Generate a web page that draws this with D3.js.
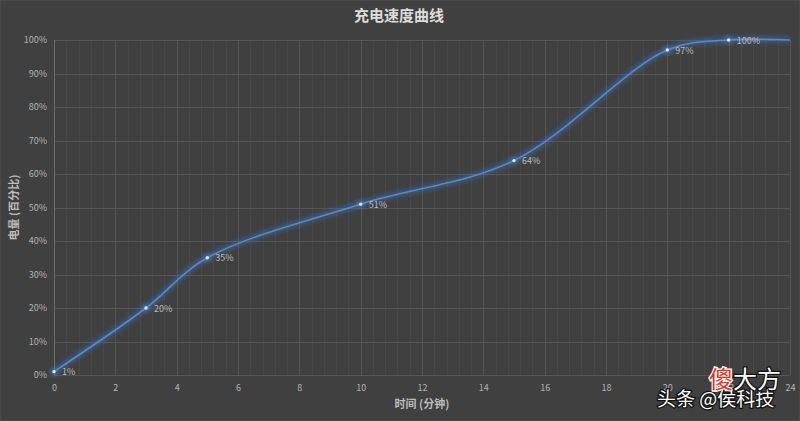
<!DOCTYPE html>
<html><head><meta charset="utf-8">
<script src="https://cdn.jsdelivr.net/npm/d3@7"></script>
<style>
html,body{margin:0;padding:0;background:#404040;}
svg{display:block;}
text{font-family:"Noto Sans CJK SC","Noto Sans",sans-serif;}
</style></head>
<body>
<script>
const minutes = [0, 3, 5, 10, 15, 20, 22, 24];
const charge = [1, 20, 35, 51, 64, 97, 100, 100];
const labeled = [true, true, true, true, true, true, true, false];
const xTicks = [0, 2, 4, 6, 8, 10, 12, 14, 16, 18, 20, 22, 24];
const yTicks = [0, 10, 20, 30, 40, 50, 60, 70, 80, 90, 100];
const title = "充电速度曲线";
const xTitle = "时间 (分钟)";
const yTitle = "电量 (百分比)";

const W = 800, H = 421;
const svg = d3.select("body").append("svg").attr("width", W).attr("height", H);
svg.append("rect").attr("width", W).attr("height", H).attr("fill", "#404040");
svg.append("rect").attr("x",0.5).attr("y",0.5).attr("width",W-1).attr("height",H-1).attr("fill","none").attr("stroke","#4a4a4a");

const x = d3.scaleLinear().domain([0, 24]).range([54, 790]);
const y = d3.scaleLinear().domain([0, 100]).range([375, 40]);

const defs = svg.append("defs");
const glow = defs.append("filter").attr("id","glow").attr("x","-20%").attr("y","-20%").attr("width","140%").attr("height","140%");
glow.append("feGaussianBlur").attr("in","SourceGraphic").attr("stdDeviation",2.5);

// minor vertical grid
const minor = d3.range(0, 24.001, 0.4).filter(v => Math.abs(v/2 - Math.round(v/2)) > 0.01);
svg.append("g").selectAll("line").data(minor).join("line")
  .attr("x1", d => Math.round(x(d))+0.5).attr("x2", d => Math.round(x(d))+0.5)
  .attr("y1", y(100)).attr("y2", y(0)).attr("stroke", "#484848").attr("stroke-width", 1);
// major vertical grid
svg.append("g").selectAll("line").data(xTicks.slice(1)).join("line")
  .attr("x1", d => Math.round(x(d))+0.5).attr("x2", d => Math.round(x(d))+0.5)
  .attr("y1", y(100)).attr("y2", y(0)).attr("stroke", "#545454").attr("stroke-width", 1);
// horizontal grid
svg.append("g").selectAll("line").data(yTicks).join("line")
  .attr("x1", x(0)).attr("x2", x(24))
  .attr("y1", d => Math.round(y(d))+0.5).attr("y2", d => Math.round(y(d))+0.5)
  .attr("stroke", "#565656").attr("stroke-width", 1);
// y axis line
svg.append("line").attr("x1", Math.round(x(0))+0.5).attr("x2", Math.round(x(0))+0.5)
  .attr("y1", y(100)).attr("y2", y(0)).attr("stroke", "#6e6e6e");

// axes
const xAxis = svg.append("g").attr("transform", `translate(0,${y(0)})`)
  .call(d3.axisBottom(x).tickValues(xTicks).tickSize(0).tickPadding(10).tickFormat(d3.format("d")));
xAxis.select(".domain").remove();
xAxis.selectAll("text").attr("fill", "#b4b4b4").attr("font-size", 9);

const yAxis = svg.append("g").attr("transform", `translate(${x(0)},0)`)
  .call(d3.axisLeft(y).tickValues(yTicks).tickSize(0).tickPadding(7).tickFormat(d => d + "%"));
yAxis.select(".domain").remove();
yAxis.selectAll("text").attr("fill", "#b4b4b4").attr("font-size", 9);

// titles
svg.append("text").attr("x", 399).attr("y", 21).attr("text-anchor","middle")
  .attr("font-size", 15).attr("font-weight","bold").attr("fill","#dcdcdc").text(title);
svg.append("text").attr("x", 422).attr("y", 408).attr("text-anchor","middle")
  .attr("font-size", 11).attr("font-weight","bold").attr("fill","#bdbdbd").text(xTitle);
svg.append("text").attr("transform", `translate(18,${(y(0)+y(100))/2}) rotate(-90)`).attr("text-anchor","middle")
  .attr("font-size", 11).attr("font-weight","bold").attr("fill","#bdbdbd").text(yTitle);

// line
const data = minutes.map((m, i) => ({m, v: charge[i], l: labeled[i]}));
const line = d3.line().x(d => x(d.m)).y(d => y(d.v)).curve(d3.curveCatmullRom.alpha(0.5));
svg.append("path").datum(data).attr("d", line).attr("fill","none")
  .attr("stroke","#3f7ed8").attr("stroke-width",5).attr("stroke-opacity",0.45).attr("filter","url(#glow)");
svg.append("path").datum(data).attr("d", line).attr("fill","none")
  .attr("stroke","#4f8bd6").attr("stroke-width",1.6);

const pts = data.filter(d => d.l);
svg.append("g").selectAll("circle.g").data(pts).join("circle")
  .attr("cx", d => x(d.m)).attr("cy", d => y(d.v)).attr("r", 4)
  .attr("fill","#4d8ad8").attr("opacity",0.5).attr("filter","url(#glow)");
svg.append("g").selectAll("circle.p").data(pts).join("circle")
  .attr("cx", d => x(d.m)).attr("cy", d => y(d.v)).attr("r", 1.7)
  .attr("fill","#d8e6f8");
svg.append("g").selectAll("text").data(pts).join("text")
  .attr("x", d => x(d.m) + 8).attr("y", d => y(d.v) + 3.5)
  .attr("font-size", 9).attr("fill","#bcbcbc").text(d => d.v + "%");

// watermark
const wm = svg.append("g");
wm.append("text").attr("x", 657).attr("y", 406).attr("font-size", 19)
  .attr("fill","#ffffff").attr("stroke","#111").attr("stroke-width",2.5).attr("paint-order","stroke")
  .text("头条 @侯科技");
const wm2 = wm.append("text").attr("x", 709).attr("y", 388).attr("font-size", 24)
  .attr("stroke-width",2.5).attr("paint-order","stroke");
wm2.append("tspan").attr("fill","#e8341c").attr("stroke","#ffffff").text("傻");
wm2.append("tspan").attr("fill","#ffffff").attr("stroke","#111").text("大方");
</script>
</body></html>
